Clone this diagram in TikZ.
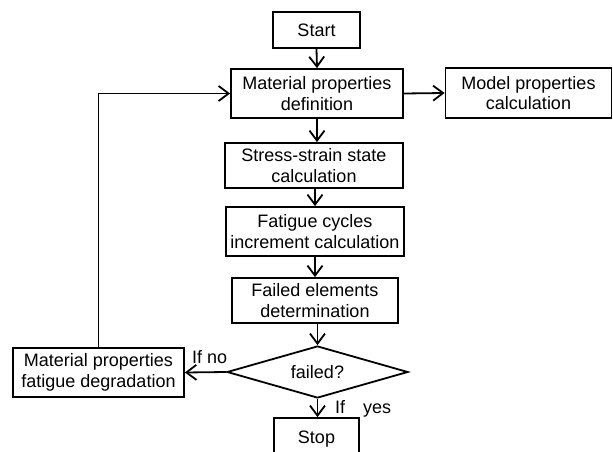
\documentclass[tikz,border=0pt]{standalone}
\usepackage{fontspec}
\setmainfont{Liberation Sans}
\usetikzlibrary{arrows.meta,shapes.geometric}
\begin{document}
\begin{tikzpicture}[x=1pt,y=-1pt,
  box/.style={draw,line width=1.8pt,inner sep=0pt,align=center,font=\fontsize{18}{20.5}\selectfont},
  flow/.style={line width=1.8pt,-{Straight Barb[length=10pt,width=15pt,line width=1.8pt]}},
  lbl/.style={inner sep=0pt,anchor=base west,font=\fontsize{18}{20.5}\selectfont}]
\useasboundingbox (0,0) rectangle (613,452);
\node[box,minimum width=87pt,minimum height=36pt] (start) at (316.5,30) {Start};
\node[box,minimum width=172pt,minimum height=49pt] (matdef) at (317,93.5) {Material properties\\definition};
\node[box,minimum width=166pt,minimum height=50pt] (model) at (528.5,93) {Model properties\\calculation};
\node[box,minimum width=178pt,minimum height=45pt] (stress) at (314,165.5) {Stress-strain state\\calculation};
\node[box,minimum width=178pt,minimum height=49pt] (fatigue) at (315,231.5) {Fatigue cycles\\increment calculation};
\node[box,minimum width=166pt,minimum height=45pt] (failed) at (315,300.5) {Failed elements\\determination};
\node[box,diamond,aspect=3.5,minimum width=181pt,minimum height=52pt] (dec) at (317.5,372) {failed?};
\node[box,minimum width=171pt,minimum height=49pt] (degr) at (98.5,372.5) {Material properties\\fatigue degradation};
\node[box,minimum width=85pt,minimum height=42pt] (stop) at (316.5,439) {Stop};
\coordinate (corner) at (degr.north |- matdef.west);
\draw[flow] (start.south) -- (matdef.north);
\draw[flow] (matdef.east) -- (model.west);
\draw[flow] (matdef.south) -- (matdef.south |- stress.north);
\draw[flow] (fatigue.north |- stress.south) -- (fatigue.north);
\draw[flow] (fatigue.south) -- (failed.north);
\draw[flow] (dec.north |- failed.south) -- (dec.north);
\draw[flow] (dec.west) -- (degr.east);
\draw[flow] (dec.south) -- (dec.south |- stop.north);
\draw[flow] (degr.north) -- (corner) -- (matdef.west);
\node[lbl] (ifno) at (192,363) {If no};
\node[lbl] (ifyes) at (335,413) {If\hspace{1em}yes};
\end{tikzpicture}
\end{document}
